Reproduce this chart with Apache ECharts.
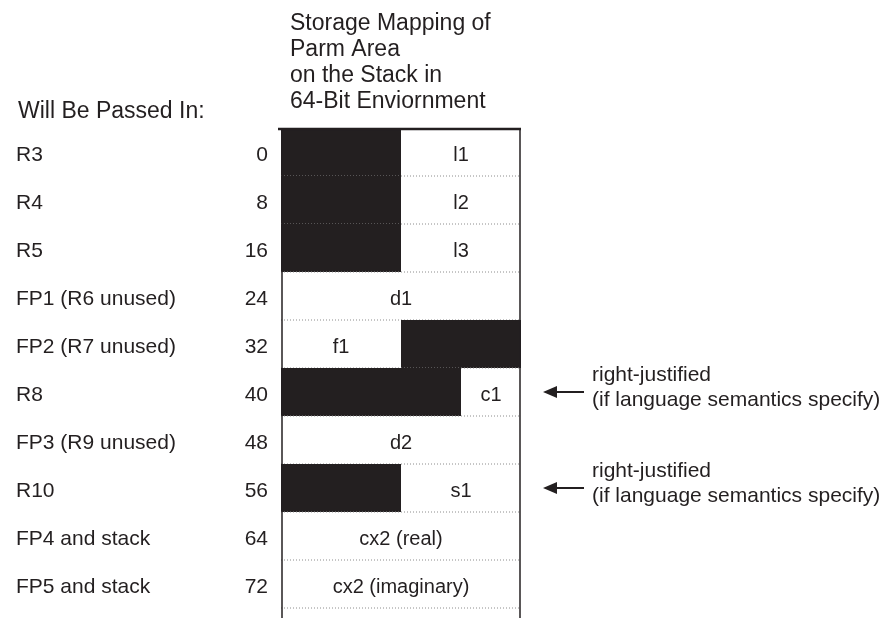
<!DOCTYPE html>
<html>
<head>
<meta charset="utf-8">
<script src="https://cdn.jsdelivr.net/npm/echarts@6/dist/echarts.min.js"></script>
<style>
  html, body { margin: 0; padding: 0; background: #fff; }
  #main { width: 889px; height: 618px; }
</style>
</head>
<body>
<div id="main"></div>
<script>
// slot offsets (bytes) and what is passed in each slot
const offsets = [0, 8, 16, 24, 32, 40, 48, 56, 64, 72];
const passedIn = ['R3', 'R4', 'R5', 'FP1 (R6 unused)', 'FP2 (R7 unused)', 'R8',
  'FP3 (R9 unused)', 'R10', 'FP4 and stack', 'FP5 and stack'];
const fields = ['l1', 'l2', 'l3', 'd1', 'f1', 'c1', 'd2', 's1', 'cx2 (real)', 'cx2 (imaginary)'];
// byte range used by the parameter inside its 8 byte slot
const fieldFrom = [4, 4, 4, 0, 0, 6, 0, 4, 0, 0];
const fieldTo = [8, 8, 8, 8, 4, 8, 8, 8, 8, 8];
// unused (blacked out) bytes, null = none
const padFrom = [0, 0, 0, null, 4, 0, null, 0, null, null];
const padTo = [4, 4, 4, null, 8, 6, null, 4, null, null];
// side notes
const noteRows = [40, 56];
const noteText = ['right-justified\n(if language semantics specify)', 'right-justified\n(if language semantics specify)'];
const slotSize = 8;
const titleLines = ['Storage Mapping of', 'Parm Area', 'on the Stack in', '64-Bit Enviornment'];

const ink = '#231f20';
const font = '"Liberation Sans", Arial, sans-serif';

var myChart = echarts.init(document.getElementById('main'));

function renderSlot(params, api) {
  const i = params.dataIndex;
  const off = api.value(0);
  const tl = api.coord([0, off]);
  const br = api.coord([slotSize, off + slotSize]);
  const cy = (tl[1] + br[1]) / 2;
  const kids = [];
  if (padFrom[i] != null) {
    const a = api.coord([padFrom[i], off]);
    const b = api.coord([padTo[i], off + slotSize]);
    kids.push({ type: 'rect', shape: { x: a[0], y: a[1], width: b[0] - a[0], height: b[1] - a[1] }, style: { fill: ink } });
  }
  const fa = api.coord([fieldFrom[i], off]);
  const fb = api.coord([fieldTo[i], off]);
  kids.push({ type: 'text', style: { text: fields[i], x: (fa[0] + fb[0]) / 2, y: cy + 3, align: 'center', verticalAlign: 'middle', font: '20px ' + font, fill: ink } });
  // offset and register labels to the left of the box
  kids.push({ type: 'text', style: { text: String(off), x: tl[0] - 13, y: cy + 3, align: 'right', verticalAlign: 'middle', font: '21px ' + font, fill: ink } });
  kids.push({ type: 'text', style: { text: passedIn[i], x: tl[0] - 265, y: cy + 3, align: 'left', verticalAlign: 'middle', font: '21px ' + font, fill: ink } });
  // dotted separator under the slot
  kids.push({ type: 'line', shape: { x1: tl[0], y1: br[1], x2: br[0], y2: br[1] }, style: { stroke: '#8c8c8c', lineWidth: 1, lineDash: [1, 2] } });
  // box sides
  const last = i === offsets.length - 1;
  const yEnd = last ? br[1] + 12 : br[1];
  kids.push({ type: 'line', shape: { x1: tl[0] + 1, y1: tl[1], x2: tl[0] + 1, y2: yEnd }, style: { stroke: ink, lineWidth: 1.5 } });
  kids.push({ type: 'line', shape: { x1: br[0] - 1, y1: tl[1], x2: br[0] - 1, y2: yEnd }, style: { stroke: ink, lineWidth: 1.5 } });
  if (i === 0) {
    kids.push({ type: 'line', shape: { x1: tl[0] - 3, y1: tl[1] + 1, x2: br[0], y2: tl[1] + 1 }, style: { stroke: ink, lineWidth: 2.5 } });
  }
  return { type: 'group', children: kids };
}

function renderNote(params, api) {
  const off = api.value(0);
  const p = api.coord([slotSize, off + slotSize / 2]);
  const x0 = p[0] + 22, x1 = p[0] + 63, y = p[1];
  return {
    type: 'group',
    children: [
      { type: 'line', shape: { x1: x0 + 10, y1: y, x2: x1, y2: y }, style: { stroke: ink, lineWidth: 2 } },
      { type: 'polygon', shape: { points: [[x0, y], [x0 + 14, y - 6], [x0 + 14, y + 6]] }, style: { fill: ink } },
      { type: 'text', style: { text: noteText[params.dataIndex], x: x1 + 8, y: y - 4, align: 'left', verticalAlign: 'middle', lineHeight: 25, font: '21px ' + font, fill: ink } }
    ]
  };
}

var option = {
  animation: false,
  backgroundColor: '#fff',
  title: [
    {
      text: titleLines.join('\n'), left: 285, top: 6,
      textStyle: { fontFamily: font, fontSize: 23, fontWeight: 'normal', lineHeight: 26, color: ink }
    },
    {
      text: 'Will Be Passed In:', left: 13, top: 94,
      textStyle: { fontFamily: font, fontSize: 23, fontWeight: 'normal', lineHeight: 26, color: ink }
    }
  ],
  grid: { left: 281, top: 128, width: 240, height: 480 },
  xAxis: { type: 'value', min: 0, max: slotSize, show: false },
  yAxis: { type: 'value', min: 0, max: offsets.length * slotSize, interval: slotSize, inverse: true, show: false },
  series: [
    {
      type: 'custom', name: 'slots', clip: false,
      renderItem: renderSlot,
      encode: { y: 0 },
      data: offsets.map(function (o) { return [o]; })
    },
    {
      type: 'custom', name: 'notes', clip: false,
      renderItem: renderNote,
      encode: { y: 0 },
      data: noteRows.map(function (o) { return [o]; })
    }
  ]
};
myChart.setOption(option);
</script>
</body>
</html>
